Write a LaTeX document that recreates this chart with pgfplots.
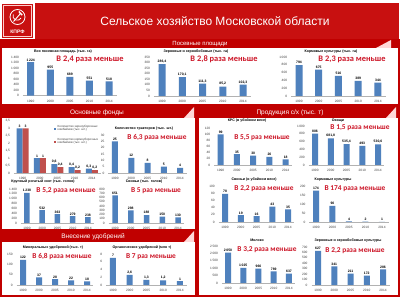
\documentclass[border=0pt]{standalone}
\usepackage{pgfplots}
\pgfplotsset{compat=1.18}
\usepackage{fontspec}
\setmainfont{Liberation Sans}
\newfontfamily\calib{Carlito}
\definecolor{kred}{RGB}{192,0,0}
\definecolor{tred}{RGB}{200,16,16}
\definecolor{rtext}{RGB}{205,22,40}
\definecolor{barblue}{RGB}{79,129,189}
\definecolor{barred}{RGB}{192,80,77}
\pgfplotsset{
  mini/.style={
    scale only axis, ybar, bar width=6pt, clip=false,
    ymin=0, xmin=-0.4, xmax=4.4,
    xtick={0,1,2,3,4}, xticklabels={1990,2000,2005,2010,2014},
    axis x line*=bottom, axis y line*=left,
    y axis line style={draw=none}, x axis line style={draw=black!30},
    major tick length=0pt, scaled y ticks=false,
    tick label style={font=\fontsize{3.2}{3.4}\selectfont, text=black!75},
    yticklabel style={xshift=-0.5pt},
    xticklabel style={yshift=-0.8pt},
    /pgf/number format/use comma, /pgf/number format/1000 sep={\,},
    /pgf/number format/assume math mode=true,
    nodes near coords,
    every node near coord/.append style={font=\fontsize{3.4}{3.6}\selectfont\bfseries, text=black, inner sep=0.8pt},
    cycle list={{fill=barblue, draw=none},{fill=barred, draw=none}},
  }
}
\newcommand{\rtxt}[3]{\node[text=rtext, font=\calib\bfseries\fontsize{#1}{#1}\selectfont] at #2 {#3};}
\newcommand{\ttl}[2]{\node[font=\bfseries\fontsize{3.6}{3.8}\selectfont] at #1 {#2};}
\begin{document}
\begin{tikzpicture}[x=1pt,y=1pt]
\useasboundingbox (0,0) rectangle (400,297);
\fill[white] (0,0) rectangle (400,297);
% title bar
\fill[tred] (35,258) rectangle (399,294);
\fill[tred] (2,259) rectangle (33,293);
\draw[white!80!red, line width=0.6pt] (3.5,260.5) rectangle (31.5,291.5);
\draw[white, line width=0.8pt] (17.5,280) circle (7.5);
\draw[white, line width=0.9pt] (13.5,275.5) -- (20.5,283.5);
\draw[white, line width=1.4pt] (18.8,285.5) -- (22.2,281.8);
\draw[white, line width=0.8pt] (13.2,282.5) arc (160:330:4.3);
\node[white, font=\bfseries\fontsize{5}{5}\selectfont] at (17.5,265) {КПРФ};
\node[white, font=\fontsize{12}{12}\selectfont] at (215,276) {Сельское хозяйство Московской области};
% panels
\draw[kred, line width=1.3pt] (1,192) rectangle (399,257);
\fill[kred] (1,249) rectangle (399,257);
\fill[white!85!red] (376,249) -- (391,257) -- (391,249) -- cycle;
\node[white, font=\fontsize{6}{6}\selectfont] at (200,252.8) {Посевные площади};
\draw[kred, line width=1.3pt] (1,67) rectangle (196,191);
\fill[kred] (1,179) rectangle (196,190);
\fill[white!85!red] (184,179) -- (194,190) -- (194,179) -- cycle;
\node[white, font=\fontsize{6.5}{6.5}\selectfont] at (97,184.5) {Основные фонды};
\draw[kred, line width=1.3pt] (1,1) rectangle (196,66);
\fill[kred] (1,55) rectangle (196,66);
\fill[white!85!red] (184,55) -- (194,66) -- (194,55) -- cycle;
\node[white, font=\fontsize{6.5}{6.5}\selectfont] at (93,60) {Внесение удобрений};
\draw[kred, line width=1.3pt] (198,1) rectangle (399,191);
\fill[kred] (198,179) rectangle (399,190);
\fill[white!85!red] (386,179) -- (396,190) -- (396,179) -- cycle;
\node[white, font=\fontsize{6.5}{6.5}\selectfont] at (290,184.5) {Продукция с/х (тыс. т)};
% chart 1
\begin{axis}[mini, at={(22.9pt,201.3pt)}, anchor=south west, width=94pt, height=38.4pt, ymax=1400, ytick={0,200,...,1400}, bar width=7pt]
\addplot coordinates {(0,1224)(1,955)(2,689)(3,551)(4,518)};
\end{axis}
% chart 2
\begin{axis}[mini, at={(153.9pt,201pt)}, anchor=south west, width=97.2pt, height=39pt, ymax=350, ytick={0,50,...,350}, bar width=7pt]
\addplot coordinates {(0,286.4)(1,170.1)(2,111.3)(3,85.2)(4,102.3)};
\end{axis}
% chart 3
\begin{axis}[mini, at={(291.1pt,201pt)}, anchor=south west, width=94.8pt, height=39pt, ymax=1000, ytick={0,200,...,1000}, bar width=7pt]
\addplot coordinates {(0,794)(1,675)(2,516)(3,389)(4,344)};
\end{axis}
% chart 4
\begin{axis}[mini, at={(14pt,124pt)}, anchor=south west, width=86.5pt, height=52pt, ymax=3.5, ytick={0,0.5,...,3.5}, ybar=0pt, bar width=6pt, xmin=-0.5, xmax=4.5,
  legend style={at={(0.42,1.0)}, anchor=north west, draw=none, fill=none, font=\fontsize{3}{3.4}\selectfont, text=black!75, cells={align=left}, row sep=2pt},
  legend cell align=left,
  legend image code/.code={\fill[#1] (0pt,-1pt) rectangle (2.2pt,1.2pt);}]
\addplot[fill=barblue, draw=none] coordinates {(0,3)(1,1)(2,0.6)(3,0.4)(4,0.3)};
\addlegendentry{Количество зерноуборочных\\комбайнов (тыс. шт.)}
\addplot[fill=barred, draw=none] coordinates {(0,3)(1,1)(2,0.4)(3,0.2)(4,0.2)};
\addlegendentry{Количество кормоуборочных\\комбайнов (тыс. шт.)}
\end{axis}
% chart 5
\begin{axis}[mini, at={(108.5pt,124pt)}, anchor=south west, width=78pt, height=38pt, ymax=30, ytick={0,5,...,30}]
\addplot coordinates {(0,25)(1,12)(2,8)(3,5)(4,4)};
\end{axis}
% chart 6
\begin{axis}[mini, at={(20.9pt,74pt)}, anchor=south west, width=73.2pt, height=34pt, ymax=1400, ytick={0,200,...,1400}, bar width=5.5pt]
\addplot coordinates {(0,1238)(1,532)(2,363)(3,279)(4,238)};
\end{axis}
% chart 7
\begin{axis}[mini, at={(108.7pt,74pt)}, anchor=south west, width=75.6pt, height=34pt, ymax=800, ytick={0,100,...,800}, bar width=5.5pt]
\addplot coordinates {(0,651)(1,298)(2,188)(3,150)(4,130)};
\end{axis}
% chart 8
\begin{axis}[mini, at={(16.6pt,12pt)}, anchor=south west, width=76.8pt, height=31pt, ymax=150, ytick={0,50,...,150}]
\addplot coordinates {(0,122)(1,37)(2,28)(3,22)(4,18)};
\end{axis}
% chart 9
\begin{axis}[mini, at={(106.3pt,12pt)}, anchor=south west, width=80.4pt, height=31pt, ymax=8, ytick={0,2,...,8}]
\addplot coordinates {(0,7)(1,2.6)(2,1.3)(3,1.2)(4,1)};
\end{axis}
% chart 10
\begin{axis}[mini, at={(214.2pt,132pt)}, anchor=south west, width=78pt, height=37pt, ymax=120, ytick={0,20,...,120}]
\addplot coordinates {(0,99)(1,35)(2,30)(3,26)(4,18)};
\end{axis}
% chart 11
\begin{axis}[mini, at={(308.7pt,132pt)}, anchor=south west, width=75.6pt, height=39pt, ymax=1000, ytick={0,200,...,1000}]
\addplot coordinates {(0,806)(1,681.8)(2,535.4)(3,493)(4,530.6)};
\end{axis}
% chart 12
\begin{axis}[mini, at={(218.7pt,75pt)}, anchor=south west, width=75.6pt, height=36pt, ymax=100, ytick={0,20,...,100}]
\addplot coordinates {(0,78)(1,19)(2,16)(3,43)(4,35)};
\end{axis}
% chart 13
\begin{axis}[mini, at={(309.4pt,75pt)}, anchor=south west, width=79.2pt, height=36pt, ymax=200, ytick={0,50,...,200}]
\addplot coordinates {(0,174)(1,90)(2,4)(3,2)(4,1)};
\end{axis}
% chart 14
\begin{axis}[mini, at={(221.9pt,14pt)}, anchor=south west, width=73.2pt, height=37pt, ymax=2500, ytick={0,500,...,2500}]
\addplot coordinates {(0,2050)(1,1025)(2,966)(3,789)(4,637)};
\end{axis}
% chart 15
\begin{axis}[mini, at={(311.5pt,12pt)}, anchor=south west, width=78pt, height=38pt, ymax=700, ytick={0,100,...,700}]
\addplot coordinates {(0,627)(1,341)(2,211)(3,172)(4,286)};
\end{axis}
% titles
\ttl{(63,245.3)}{Вся посевная площадь (тыс. га)}
\ttl{(196,245.3)}{Зерновые и зернобобовые (тыс. га)}
\ttl{(331,245.3)}{Кормовые культуры (тыс. га)}
\ttl{(43,115)}{Крупный рогатый скот (тыс. голов)}
\ttl{(144,168)}{Количество тракторов (тыс. шт.)}
\ttl{(144,115)}{Свиньи (тыс. голов)}
\ttl{(53,49)}{Минеральных удобрений (тыс. т)}
\ttl{(142,49)}{Органических удобрений (млн т)}
\ttl{(247,176)}{КРС (в убойном весе)}
\ttl{(338,176)}{Овощи}
\ttl{(254,117)}{Свиньи (в убойном весе)}
\ttl{(333,117)}{Кормовые культуры}
\ttl{(257,57)}{Молоко}
\ttl{(348,56)}{Зерновые и зернобобовые культуры}
% red notes
\rtxt{8.4}{(90,238)}{В 2,4 раза меньше}
\rtxt{8.4}{(224,238)}{В 2,8 раза меньше}
\rtxt{8.4}{(352,238)}{В 2,3 раза меньше}
\rtxt{7.4}{(157,159)}{В 6,3 раза меньше}
\rtxt{7.4}{(66,106)}{В 5,2 раза меньше}
\rtxt{7.4}{(156,106)}{В 5 раз меньше}
\rtxt{7.4}{(62,40)}{В 6,8 раза меньше}
\rtxt{7.4}{(151,40)}{В 7 раз меньше}
\rtxt{7.4}{(262,159)}{В 5,5 раз меньше}
\rtxt{7.4}{(360,169)}{В 1,5 раза меньше}
\rtxt{7.4}{(264,108)}{В 2,2 раза меньше}
\rtxt{7.4}{(355,108)}{В 174 раза меньше}
\rtxt{7.4}{(267,47)}{В 3,2 раза меньше}
\rtxt{7.4}{(355,46)}{В 2,2 раза меньше}
\end{tikzpicture}
\end{document}
